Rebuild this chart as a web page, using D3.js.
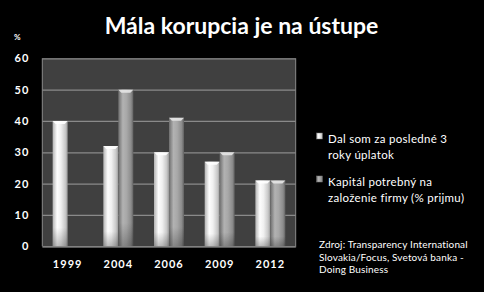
<!DOCTYPE html>
<html><head><meta charset="utf-8">
<script src="https://cdn.jsdelivr.net/npm/d3@7"></script>
<style>
html,body{margin:0;padding:0;background:#000;}
svg{display:block;}
</style></head>
<body>
<script>
const years = ["1999","2004","2006","2009","2012"];
const seriesNames = ["Dal som za posledné 3 roky úplatok", "Kapitál potrebný na založenie firmy (% prijmu)"];
const bribes = [40, 32, 30, 27, 21];
const capital = [null, 50, 41, 30, 21];
const yTicks = [0,10,20,30,40,50,60];
const title = "Mála korupcia je na ústupe";
const unitLabel = "%";
const legendLines = [["Dal som za posledné 3","roky úplatok"],["Kapitál potrebný na","založenie firmy (% prijmu)"]];
const sourceLines = ["Zdroj: Transparency International","Slovakia/Focus, Svetová banka -","Doing Business"];

const W=484,H=292;
const svg=d3.select("body").append("svg").attr("width",W).attr("height",H);
svg.append("rect").attr("width",W).attr("height",H).attr("fill","#000");

const defs=svg.append("defs");
function hgrad(id,stops){
  const g=defs.append("linearGradient").attr("id",id).attr("x1","0").attr("x2","1").attr("y1","0").attr("y2","0");
  stops.forEach(s=>g.append("stop").attr("offset",s[0]).attr("stop-color",s[1]));
}
hgrad("g0",[[0,"#b4b4b4"],[0.3,"#fdfdfd"],[0.55,"#f0f0f0"],[0.85,"#c8c8c8"],[1,"#9a9a9a"]]);
hgrad("g1",[[0,"#6e6e6e"],[0.3,"#b2b2b2"],[0.55,"#a8a8a8"],[0.85,"#8c8c8c"],[1,"#606060"]]);
const vg=defs.append("linearGradient").attr("id","shade").attr("x1","0").attr("x2","0").attr("y1","0").attr("y2","1");
vg.append("stop").attr("offset",0).attr("stop-color","#000").attr("stop-opacity",0);
vg.append("stop").attr("offset",1).attr("stop-color","#000").attr("stop-opacity",0.25);

const x0=d3.scaleBand().domain(years).range([42.3,295.7]).paddingInner(0).paddingOuter(0);
const x1=d3.scaleBand().domain([0,1]).range([0,x0.bandwidth()]).paddingInner(0).paddingOuter(0.69);
const y=d3.scaleLinear().domain([0,60]).range([246.3,58.3]);

svg.append("rect").attr("x",x0.range()[0]).attr("y",y(60)).attr("width",x0.range()[1]-x0.range()[0]).attr("height",y(0)-y(60)).attr("fill","#404040");

const yAxis=d3.axisLeft(y).tickValues(yTicks).tickSize(-(x0.range()[1]-x0.range()[0])).tickFormat(d3.format("d")).tickPadding(13);
const ga=svg.append("g").attr("transform",`translate(${x0.range()[0]},0)`).call(yAxis);
ga.select(".domain").remove();
ga.selectAll(".tick line").attr("stroke","#8a8a8a").attr("stroke-width",1.2);
ga.selectAll(".tick text").attr("fill","#fff").attr("font-family","Lato, 'Open Sans', sans-serif").attr("font-weight","bold").attr("font-size","11px").attr("letter-spacing","1px");
svg.append("line").attr("x1",x0.range()[0]).attr("x2",x0.range()[0]).attr("y1",y(60)).attr("y2",y(0)).attr("stroke","#8a8a8a");
svg.append("line").attr("x1",x0.range()[1]).attr("x2",x0.range()[1]).attr("y1",y(60)).attr("y2",y(0)).attr("stroke","#8a8a8a");

const data=years.map((yr,i)=>({yr,vals:[bribes[i],capital[i]]}));
const groups=svg.append("g").selectAll("g").data(data).join("g").attr("transform",d=>`translate(${x0(d.yr)},0)`);
groups.each(function(d){
  const g=d3.select(this);
  d.vals.forEach((v,si)=>{
    if(v==null) return;
    const bx=x1(si), bw=x1.bandwidth(), by=y(v), bh=y(0)-y(v);
    g.append("rect").attr("x",bx).attr("y",by).attr("width",bw).attr("height",bh).attr("fill",`url(#g${si})`);
    g.append("rect").attr("x",bx).attr("y",y(0)-bh*0.15).attr("width",bw).attr("height",bh*0.15).attr("fill","url(#shade)");
    g.append("path").attr("d",`M${bx},${by}L${bx+bw},${by}L${bx+bw-3},${by+3}L${bx+3},${by+3}Z`)
      .attr("fill",si===0?"#ffffff":"#e6e6e6").attr("opacity",0.9);
  });
});

const xAxis=d3.axisBottom(x0).tickSize(0).tickPadding(14);
const gx=svg.append("g").attr("transform",`translate(0,${y(0)})`).call(xAxis);
gx.select(".domain").attr("stroke","#8a8a8a");
gx.selectAll(".tick text").attr("fill","#fff").attr("font-family","Lato, 'Open Sans', sans-serif").attr("font-weight","bold").attr("font-size","11px").attr("letter-spacing","1px");

svg.append("text").attr("x",241.5).attr("y",34).attr("text-anchor","middle").attr("fill","#fff")
  .attr("font-family","Lato, 'Open Sans', sans-serif").attr("font-weight","bold").attr("font-size","23px").text(title);
svg.append("text").attr("x",14).attr("y",40).attr("fill","#fff").attr("font-family","Lato, sans-serif").attr("font-weight","bold").attr("font-size","8px").text(unitLabel);

const legY=[133,176];
legendLines.forEach((lines,i)=>{
  const top=legY[i];
  svg.append("rect").attr("x",316.5).attr("y",top).attr("width",6).attr("height",6).attr("fill",`url(#g${i})`).attr("stroke","#777").attr("stroke-width",0.5);
  lines.forEach((ln,j)=>{
    svg.append("text").attr("x",328).attr("y",top+10+j*16).attr("fill","#fff").attr("font-family","Lato, 'Open Sans', sans-serif").attr("font-size","11.5px").attr("letter-spacing","0.3px").text(ln);
  });
});
sourceLines.forEach((ln,j)=>{
  svg.append("text").attr("x",319).attr("y",248+j*12.5).attr("fill","#fff").attr("font-family","Lato, 'Open Sans', sans-serif").attr("font-size","10px").attr("letter-spacing","0.15px").text(ln);
});
</script>
</body></html>
